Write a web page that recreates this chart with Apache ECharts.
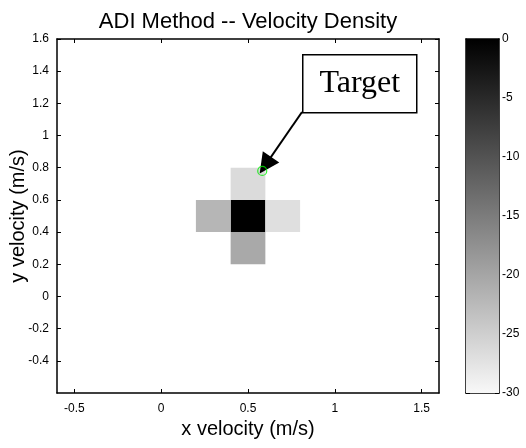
<!DOCTYPE html>
<html>
<head>
<meta charset="utf-8">
<script src="https://cdn.jsdelivr.net/npm/echarts@6/dist/echarts.min.js"></script>
<style>
  html, body { margin: 0; padding: 0; background: #fff; }
  #chart { width: 526px; height: 448px; }
</style>
</head>
<body>
<div id="chart"></div>
<script>
// cell centres (m/s) and density values (dB)
const cellX = [0.5, 0.3, 0.7, 0.5, 0.5];
const cellY = [0.5, 0.5, 0.5, 0.7, 0.3];
const cellVal = [0, -22, -27, -26.5, -20.5];
const cellSize = 0.2;
const target = [0.582, 0.78];
const arrowTip = [0.6, 0.816];
const xTicks = [-0.5, 0, 0.5, 1, 1.5];
const yTicks = [-0.4, -0.2, 0, 0.2, 0.4, 0.6, 0.8, 1, 1.2, 1.4, 1.6];
const barTicks = [-30, -25, -20, -15, -10, -5, 0];

const chart = echarts.init(document.getElementById('chart'));

const fontFam = 'Liberation Sans, Arial, sans-serif';
const tickStyle = { show: true, inside: true, length: 4, lineStyle: { color: '#000', width: 1 } };
const lineStyle = { show: true, onZero: false, lineStyle: { color: '#000', width: 1.5 } };

let option = {
  animation: false,
  backgroundColor: '#fff',
  title: {
    text: 'ADI Method -- Velocity Density',
    left: 243, top: 6, textAlign: 'center',
    textStyle: { fontFamily: fontFam, fontSize: 22, fontWeight: 'normal', color: '#000' }
  },
  grid: [
    { left: 57, top: 39, width: 382, height: 354, outerBoundsMode: 'none', containLabel: false },
    { left: 466, top: 39, width: 33, height: 354, outerBoundsMode: 'none', containLabel: false }
  ],
  visualMap: {
    show: false, type: 'continuous', min: -30, max: 0, dimension: 2, seriesIndex: 0,
    inRange: { color: ['#f8f8f8', '#000000'] }
  },
  xAxis: [
    {
      type: 'value', gridIndex: 0, min: -0.6, max: 1.6,
      name: 'x velocity (m/s)', nameLocation: 'middle', nameGap: 20,
      nameTextStyle: { fontFamily: fontFam, fontSize: 20, color: '#000' },
      axisLine: lineStyle, axisTick: Object.assign({ customValues: xTicks }, tickStyle),
      splitLine: { show: false },
      axisLabel: { customValues: xTicks, fontFamily: fontFam, fontSize: 12, color: '#000', margin: 10 }
    },
    {
      type: 'value', gridIndex: 0, position: 'top', min: -0.6, max: 1.6,
      axisLine: lineStyle, axisTick: Object.assign({ customValues: xTicks }, tickStyle),
      axisLabel: { show: false }, splitLine: { show: false }
    },
    {
      type: 'value', gridIndex: 1, min: 0, max: 1, show: true,
      axisLine: lineStyle, axisTick: { show: false }, axisLabel: { show: false }, splitLine: { show: false }
    },
    {
      type: 'value', gridIndex: 1, position: 'top', min: 0, max: 1,
      axisLine: lineStyle, axisTick: { show: false }, axisLabel: { show: false }, splitLine: { show: false }
    }
  ],
  yAxis: [
    {
      type: 'value', gridIndex: 0, min: -0.6, max: 1.6,
      name: 'y velocity (m/s)', nameLocation: 'middle', nameGap: 29, nameMoveOverlap: false,
      nameTextStyle: { fontFamily: fontFam, fontSize: 20, color: '#000' },
      axisLine: lineStyle, axisTick: Object.assign({ customValues: yTicks }, tickStyle),
      splitLine: { show: false },
      axisLabel: { customValues: yTicks, fontFamily: fontFam, fontSize: 12, color: '#000', margin: 8 }
    },
    {
      type: 'value', gridIndex: 0, position: 'right', min: -0.6, max: 1.6,
      axisLine: lineStyle, axisTick: Object.assign({ customValues: yTicks }, tickStyle),
      axisLabel: { show: false }, splitLine: { show: false }
    },
    {
      type: 'value', gridIndex: 1, position: 'right', min: -30, max: 0,
      axisLine: lineStyle, axisTick: Object.assign({ customValues: barTicks }, tickStyle),
      splitLine: { show: false },
      axisLabel: { customValues: barTicks, fontFamily: fontFam, fontSize: 12, color: '#000', margin: 3 }
    },
    {
      type: 'value', gridIndex: 1, position: 'left', min: -30, max: 0,
      axisLine: lineStyle, axisTick: Object.assign({ customValues: barTicks }, tickStyle),
      axisLabel: { show: false }, splitLine: { show: false }
    }
  ],
  series: [
    {
      type: 'custom', xAxisIndex: 0, yAxisIndex: 0,
      data: cellX.map((x, i) => [x, cellY[i], cellVal[i]]),
      encode: { x: 0, y: 1 },
      renderItem: function (params, api) {
        const x = api.value(0), y = api.value(1), h = cellSize / 2;
        const p0 = api.coord([x - h, y + h]);
        const p1 = api.coord([x + h, y - h]);
        return {
          type: 'rect',
          shape: { x: p0[0], y: p0[1], width: p1[0] - p0[0], height: p1[1] - p0[1] },
          style: { fill: api.visual('color') }
        };
      }
    },
    {
      type: 'custom', xAxisIndex: 2, yAxisIndex: 2,
      data: [[0, -30, 1, 0]],
      renderItem: function (params, api) {
        const p0 = api.coord([api.value(0), api.value(3)]);
        const p1 = api.coord([api.value(2), api.value(1)]);
        return {
          type: 'rect',
          shape: { x: p0[0], y: p0[1], width: p1[0] - p0[0], height: p1[1] - p0[1] },
          style: { fill: new echarts.graphic.LinearGradient(0, 0, 0, 1, [
            { offset: 0, color: '#000000' }, { offset: 1, color: '#f8f8f8' }
          ]) }
        };
      },
      z: 1
    },
    {
      type: 'scatter', xAxisIndex: 0, yAxisIndex: 0,
      data: [target], symbol: 'circle', symbolSize: 9,
      itemStyle: { color: 'rgba(0,0,0,0)', borderColor: '#00ee00', borderWidth: 1.2 },
      z: 5,
      markLine: {
        silent: true, symbol: ['none', 'triangle'], symbolSize: 20,
        lineStyle: { color: '#000', width: 2, type: 'solid' },
        label: { show: false },
        data: [[{ x: 302, y: 112 }, { coord: arrowTip }]]
      }
    }
  ],
  graphic: [
    {
      type: 'group', left: 302, top: 54, z: 10,
      children: [
        { type: 'rect', shape: { x: 0, y: 0, width: 114, height: 58 },
          style: { fill: '#fff', stroke: '#000', lineWidth: 1.5 } },
        { type: 'text', x: 57, y: 29,
          style: { text: 'Target', font: '32px "Liberation Serif", "Times New Roman", serif',
                   fill: '#000', textAlign: 'center', textVerticalAlign: 'middle' } }
      ]
    }
  ]
};

chart.setOption(option);
</script>
</body>
</html>
